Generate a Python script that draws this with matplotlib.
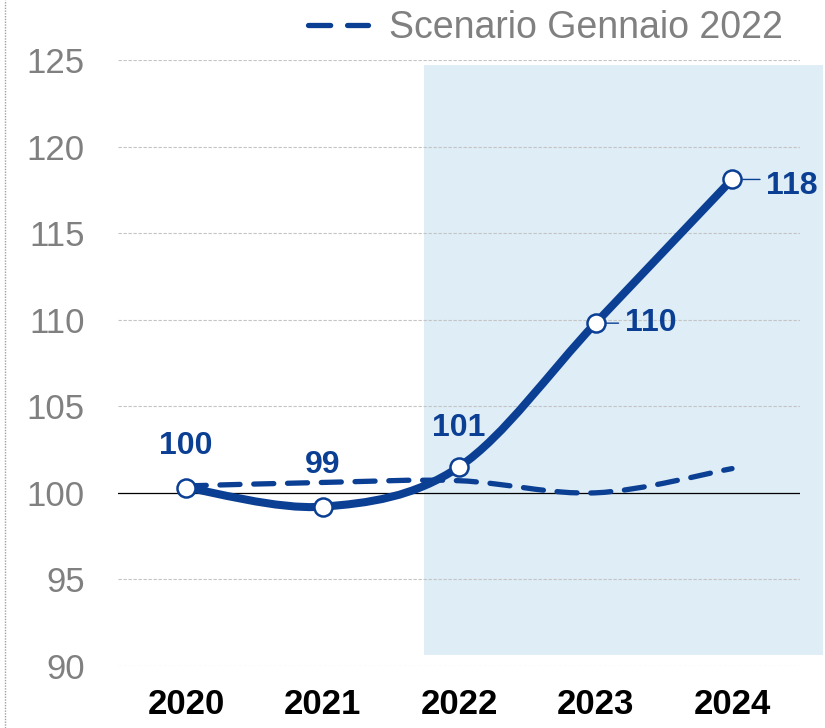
import numpy as np
import matplotlib.pyplot as plt
from matplotlib.path import Path
from matplotlib.patches import PathPatch, Rectangle
from matplotlib.lines import Line2D

years = ["2020", "2021", "2022", "2023", "2024"]
attuale = [100.3, 99.2, 101.5, 109.8, 118.1]
gennaio = [100.4, 100.6, 100.7, 100.0, 101.4]
etichette = ["100", "99", "101", "110", "118"]
y_ticks = [90, 95, 100, 105, 110, 115, 120, 125]

navy = "#0b3f94"
shade = "#deedf6"
grey = "#808080"

plt.rcParams["font.family"] = ["Liberation Sans", "DejaVu Sans"]


def smooth_path(xs, ys):
    # catmull-rom style bezier, like excel smoothed lines
    pts = np.column_stack([xs, ys]).astype(float)
    n = len(pts)
    verts = [pts[0]]
    codes = [Path.MOVETO]
    for i in range(n - 1):
        p0 = pts[i - 1] if i > 0 else pts[i]
        p1 = pts[i]
        p2 = pts[i + 1]
        p3 = pts[i + 2] if i + 2 < n else pts[i + 1]
        c1 = p1 + (p2 - p0) / 6
        c2 = p2 - (p3 - p1) / 6
        verts += [c1, c2, p2]
        codes += [Path.CURVE4] * 3
    return Path(verts, codes)


fig = plt.figure(figsize=(8.25, 7.28), dpi=100)
ax = fig.add_axes([0.143, 0.0852, 0.827, 0.8324])
x = np.arange(len(years))

ax.set_xlim(-0.5, 4.5)
ax.set_ylim(90, 125)

# forecast shading
ax.add_patch(Rectangle((1.74, 90.64), 2.93, 34.06, facecolor=shade,
                       edgecolor="none", zorder=0.1, clip_on=False))

for t in y_ticks:
    if t == 100:
        ax.axhline(t, color="black", lw=0.9, zorder=0.6)
    else:
        ax.axhline(t, color="#c4c4c4", lw=0.8, ls=(0, (3, 1.5)), zorder=0.5)

dash = PathPatch(smooth_path(x, gennaio), facecolor="none", edgecolor=navy,
                 lw=3.8, ls=(0, (3.8, 2.6)), capstyle="round", zorder=2)
ax.add_patch(dash)
solid = PathPatch(smooth_path(x, attuale), facecolor="none", edgecolor=navy,
                  lw=5.8, capstyle="round", zorder=3)
ax.add_patch(solid)

ax.plot(x, attuale, ls="none", marker="o", ms=13, mfc="white", mec=navy,
        mew=1.8, zorder=4)

offsets = [(0, 42), (0, 42), (0, 39), (29, 0), (34, -7)]
for i, lab in enumerate(etichette):
    dx, dy = offsets[i]
    if dx == 0:
        ax.annotate(lab, (x[i], attuale[i]), xytext=(dx, dy),
                    textcoords="offset pixels", ha="center", va="center",
                    fontsize=23, fontweight="bold", color=navy, zorder=5)
    else:
        ax.annotate(lab, (x[i], attuale[i]), xytext=(dx, dy),
                    textcoords="offset pixels", ha="left", va="center",
                    fontsize=23, fontweight="bold", color=navy, zorder=5)
        ax.annotate("", (x[i], attuale[i]), xytext=(dx - 6, 0),
                    textcoords="offset pixels",
                    arrowprops=dict(arrowstyle="-", color=navy, lw=1.0,
                                    shrinkA=0, shrinkB=0), zorder=3.5)

ax.set_xticks(x)
ax.set_xticklabels(years, fontsize=25, fontweight="bold", color="black")
ax.set_yticks(y_ticks)
ax.set_yticklabels([str(t) for t in y_ticks], fontsize=25, color=grey)
ax.tick_params(axis="x", length=0, pad=16)
ax.tick_params(axis="y", length=0, pad=24)
for s in ax.spines.values():
    s.set_visible(False)

leg_line = Line2D([], [], color=navy, lw=3.8, ls=(0, (4.2, 3.2)),
                  dash_capstyle="round")
fig.legend([leg_line], ["Scenario Gennaio 2022"], loc="center left",
           bbox_to_anchor=(0.373, 0.9615), frameon=False, fontsize=27,
           labelcolor=grey, handlelength=1.6, handletextpad=0.58,
           borderpad=0, borderaxespad=0)

fig.add_artist(Line2D([0.006, 0.006], [0, 1], transform=fig.transFigure,
                      color="#a0a0a0", lw=1, ls=(0, (1, 1))))

fig.savefig("out.png", dpi=100)
